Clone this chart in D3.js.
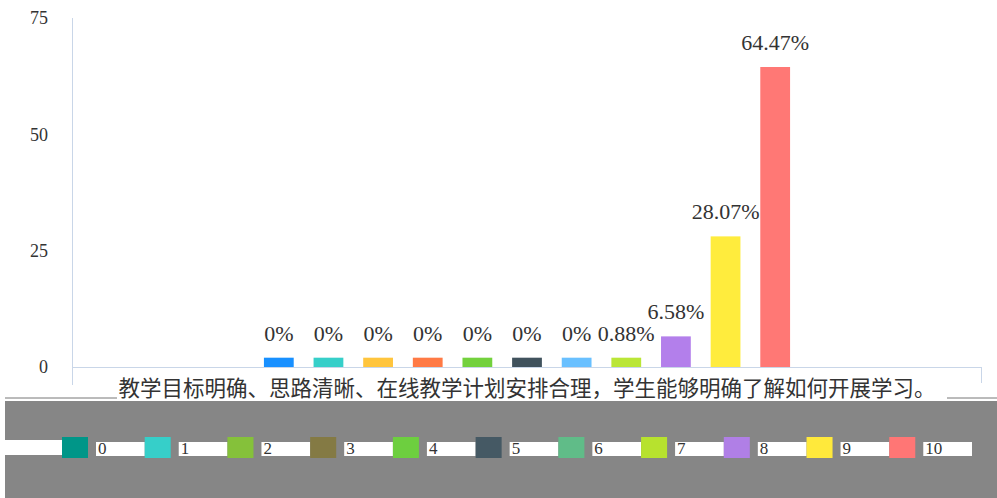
<html>
<head>
  <script src="https://cdn.jsdelivr.net/npm/d3@7"></script>
  <meta charset="utf-8">
  <title>chart</title>
<style>
body { margin: 0; background: #fff; }
svg { background: #fff; display: block; }
.num { font-family: "Liberation Serif", "DejaVu Serif", serif; fill: #333; }
.cat { font-family: "Noto Sans CJK SC", sans-serif; fill: #333; }
</style>
</head>
<body>
<script>
var width = 997;
var height = 498;

var category = '教学目标明确、思路清晰、在线教学计划安排合理，学生能够明确了解如何开展学习。';
var series = ['0', '1', '2', '3', '4', '5', '6', '7', '8', '9', '10'];
var values = [0, 0, 0, 0, 0, 0, 0, 0.88, 6.58, 28.07, 64.47];
var labels = ['0%', '0%', '0%', '0%', '0%', '0%', '0%', '0.88%', '6.58%', '28.07%', '64.47%'];
var barColors = ['#1890ff', '#36cfc9', '#ffc53d', '#ff7a45', '#73d13d', '#40525d',
  '#69c0ff', '#bae637', '#b37feb', '#ffec3d', '#ff7875'];
var legendColors = ['#009688', '#36cfc9', '#85c13a', '#847a44', '#6dcf3f', '#455964',
  '#60bc88', '#b7e22e', '#b07fe6', '#ffe93b', '#ff7675'];
var yTicks = [0, 25, 50, 75];

var svg = d3.select('body').append('svg')
  .attr('width', width)
  .attr('height', height);

var y = d3.scaleLinear().domain([0, 75]).range([367, 18]);
var x0 = d3.scaleBand().domain([category]).range([72, 982]);
var groupStart = x0(category) + x0.bandwidth() * 0.2;
var x1 = d3.scaleBand().domain(series)
  .range([groupStart, groupStart + x0.bandwidth() * 0.6])
  .paddingInner(0.4).paddingOuter(0.2);

var axisColor = '#c9d6e8';

// y axis line and tick labels
svg.append('line')
  .attr('x1', 72.5).attr('x2', 72.5)
  .attr('y1', y(75)).attr('y2', 385)
  .attr('stroke', axisColor);

svg.selectAll('.ytick').data(yTicks).enter()
  .append('text')
  .attr('class', 'num')
  .attr('x', 48)
  .attr('y', function (d) { return y(d); })
  .attr('dy', '0.35em')
  .attr('text-anchor', 'end')
  .style('font-size', '18px')
  .text(function (d) { return d; });

// x axis line with boundary ticks
svg.append('line')
  .attr('x1', 72).attr('x2', 982)
  .attr('y1', y(0) + 0.5).attr('y2', y(0) + 0.5)
  .attr('stroke', axisColor);
svg.append('line')
  .attr('x1', 981.5).attr('x2', 981.5)
  .attr('y1', y(0)).attr('y2', 383)
  .attr('stroke', axisColor);

// bars, small ones get a minimum visible height
svg.selectAll('.bar').data(values).enter()
  .append('rect')
  .attr('x', function (d, i) { return x1(series[i]); })
  .attr('width', x1.bandwidth())
  .attr('y', function (d) { return y(Math.max(d, 2)); })
  .attr('height', function (d) { return y(0) - y(Math.max(d, 2)); })
  .attr('fill', function (d, i) { return barColors[i]; });

svg.selectAll('.lbl').data(values).enter()
  .append('text')
  .attr('class', 'num')
  .attr('x', function (d, i) { return x1(series[i]) + x1.bandwidth() / 2; })
  .attr('y', function (d) { return y(Math.max(d, 2)) - 17; })
  .attr('text-anchor', 'middle')
  .style('font-size', '22px')
  .text(function (d, i) { return labels[i]; });

// bottom band (as in the picture)
svg.append('line')
  .attr('x1', 5).attr('x2', 997)
  .attr('y1', 398).attr('y2', 398)
  .attr('stroke', '#777');
svg.append('rect')
  .attr('x', 5).attr('y', 401)
  .attr('width', width - 5).attr('height', height - 401)
  .attr('fill', '#868686');

var catX = x0(category) + x0.bandwidth() / 2;
svg.append('rect')
  .attr('x', catX - 410).attr('y', 378)
  .attr('width', 830).attr('height', 23)
  .attr('fill', '#fff');
svg.append('text')
  .attr('class', 'cat')
  .attr('x', catX)
  .attr('y', 396)
  .attr('text-anchor', 'middle')
  .style('font-size', '21.5px')
  .text(category);

// legend
var lx = d3.scaleBand().domain(series).range([62, 972]);
var legend = svg.selectAll('.leg').data(series).enter()
  .append('g')
  .attr('transform', function (d) { return 'translate(' + lx(d) + ',437)'; });

svg.append('rect')
  .attr('x', 5).attr('y', 440)
  .attr('width', 57).attr('height', 15)
  .attr('fill', '#fff');

legend.append('rect')
  .attr('x', 34).attr('y', 5)
  .attr('width', lx.bandwidth() - 34).attr('height', 14)
  .attr('fill', '#fff');
legend.append('rect')
  .attr('width', 26).attr('height', 21)
  .attr('fill', function (d, i) { return legendColors[i]; });
legend.append('text')
  .attr('class', 'num')
  .attr('x', 36)
  .attr('y', 11)
  .attr('dy', '0.35em')
  .style('font-size', '17px')
  .text(function (d) { return d; });
</script>
</body>
</html>
